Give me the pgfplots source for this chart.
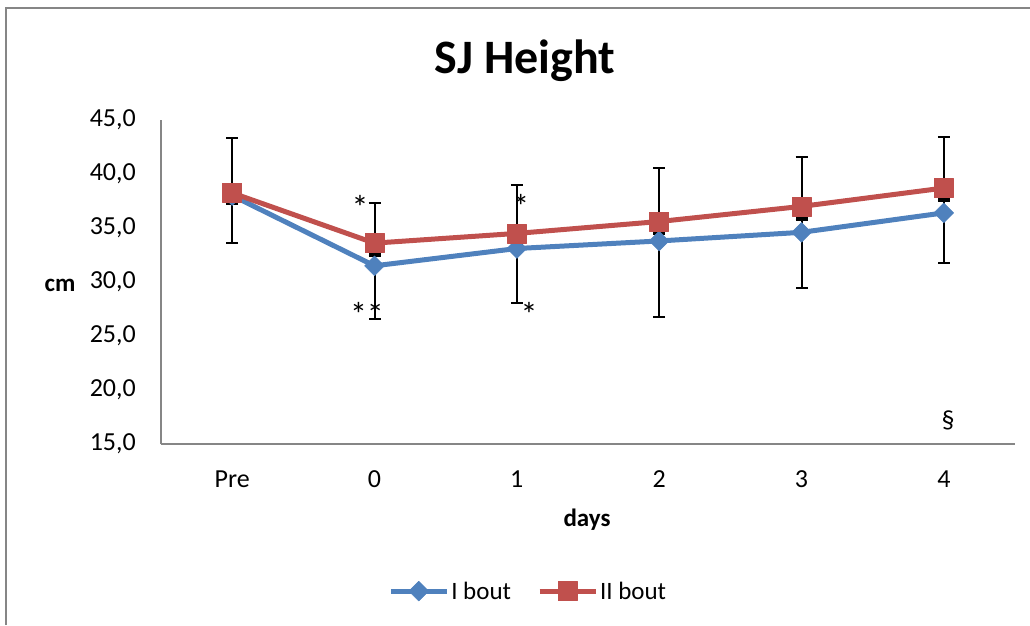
\documentclass[border=0pt]{standalone}
\usepackage{fontspec}
\setmainfont{Carlito}
\usepackage{pgfplots}
\pgfplotsset{compat=1.18}
\usepackage{pgfplotstable}
\definecolor{sblue}{HTML}{4F81BD}
\definecolor{sred}{HTML}{C0504D}
\definecolor{agray}{HTML}{868686}

% index: 0=Pre, 1=0, 2=1, 3=2, 4=3, 5=4
\pgfplotstableread{
x y ep em
0 38.0 0.0 4.4
1 31.5 0.9 4.9
2 33.1 0.0 5.0
3 33.8 0.6 7.0
4 34.6 1.1 5.2
5 36.4 1.1 4.6
}\bluedata

\pgfplotstableread{
x y ep em
0 38.25 5.05 1.05
1 33.6 3.7 1.0
2 34.5 4.5 1.0
3 35.6 5.0 1.0
4 37.0 4.6 1.1
5 38.7 4.7 1.0
}\reddata

\begin{document}
\begin{tikzpicture}[x=1pt,y=1pt]
\useasboundingbox (0,0) rectangle (1030,625);
\draw[agray, line width=1.5pt] (6,0) -- (6,617) -- (1030,617);
\node[font=\fontsize{48}{56}\selectfont\bfseries] at (525,564) {SJ Height};
\node[font=\fontsize{25}{30}\selectfont\bfseries] at (60,340) {cm};
\node[font=\fontsize{25}{30}\selectfont\bfseries] at (587,105) {days};
\begin{axis}[
  at={(161pt,181pt)}, anchor=south west,
  scale only axis, width=854pt, height=324pt,
  xmin=-0.5, xmax=5.5, ymin=15, ymax=45,
  xtick={0,...,5}, xticklabels={Pre,0,1,2,3,4},
  ytick={15,20,...,45},
  axis x line*=bottom, axis y line*=left,
  axis line style={agray, line width=1.5pt},
  major tick length=0pt,
  tick label style={font=\fontsize{26}{31}\selectfont},
  /pgf/number format/fixed, /pgf/number format/fixed zerofill,
  /pgf/number format/precision=1, /pgf/number format/use comma,
  /pgf/number format/assume math mode=true,
  yticklabel style={anchor=east, inner sep=0pt, xshift=-25pt},
  xticklabel style={anchor=center, inner sep=0pt, yshift=-35pt},
  clip=false,
  legend style={at={(0.43,-0.454)}, anchor=center, draw=none, fill=none,
    font=\fontsize{25}{30}\selectfont, legend columns=2,
    /tikz/every even column/.append style={column sep=24pt}},
  legend image code/.code={\draw[mark repeat=2,mark phase=2,#1] plot coordinates {(0pt,0pt)(28pt,0pt)(56pt,0pt)};},
]
% error bars (drawn beneath lines and markers)
\addplot[only marks, mark=*, mark size=0.01pt, black, forget plot,
  error bars/.cd, y dir=both, y explicit, error mark=-,
  error bar style={draw=black, line width=2pt},
  error mark options={draw=black, line width=2pt, mark size=6pt, rotate=90}]
  table[x=x, y=y, y error plus=ep, y error minus=em]{\bluedata};
\addplot[only marks, mark=*, mark size=0.01pt, black, forget plot,
  error bars/.cd, y dir=both, y explicit, error mark=-,
  error bar style={draw=black, line width=2pt},
  error mark options={draw=black, line width=2pt, mark size=6pt, rotate=90}]
  table[x=x, y=y, y error plus=ep, y error minus=em]{\reddata};
% series
\addplot[sblue, line width=5pt, line join=round, mark=square*,
  mark options={rotate=45, mark size=7pt, line width=0.5pt, fill=sblue, draw=sblue}]
  table[x=x, y=y]{\bluedata};
\addlegendentry{I bout}
\addplot[sred, line width=5pt, line join=round, mark=square*,
  mark options={mark size=9.5pt, line width=0.5pt, fill=sred, draw=sred}]
  table[x=x, y=y]{\reddata};
\addlegendentry{II bout}
% annotations
\node[font=\fontsize{34}{40}\selectfont] at (axis cs:0.898,36.9) {*};
\node[font=\fontsize{34}{40}\selectfont, inner sep=0pt] at (axis cs:0.947,27.0) {**};
\node[font=\fontsize{34}{40}\selectfont] at (axis cs:2.029,37.0) {*};
\node[font=\fontsize{34}{40}\selectfont] at (axis cs:2.086,27.0) {*};
\node[font=\fontsize{26}{31}\selectfont] at (axis cs:5.03,17.2) {§};
\end{axis}
\end{tikzpicture}
\end{document}
